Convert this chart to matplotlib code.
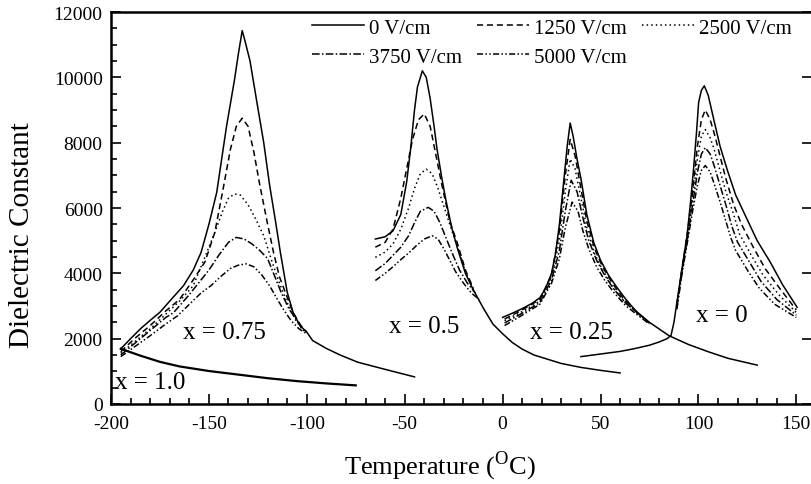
import matplotlib
matplotlib.use("Agg")
import matplotlib.pyplot as plt
from matplotlib.ticker import MultipleLocator

plt.rcParams['font.family'] = ['Liberation Serif', 'DejaVu Serif']
plt.rcParams['mathtext.fontset'] = 'custom'
plt.rcParams['mathtext.rm'] = 'Liberation Serif'
plt.rcParams['axes.unicode_minus'] = False

fields = ['0 V/cm', '1250 V/cm', '2500 V/cm', '3750 V/cm', '5000 V/cm']
styles = ['-', (0, (4, 2.5)), (0, (1, 2)), (0, (5, 1.5, 1, 1.5)), (0, (4, 1.5, 1, 1.5, 1, 1.5))]

# x = 1.0 (0 V/cm only)
t_x100 = [-195, -185, -175, -165, -150, -135, -120, -105, -90, -75]
e_x100 = [1690, 1480, 1290, 1150, 1010, 900, 790, 700, 630, 570]

# x = 0.75
t_x075 = [
    [-195, -190, -185, -180, -175, -170, -163, -158, -154, -150, -146, -141, -137, -135, -133, -131.5,
     -129, -125.5, -122, -119, -116, -113.5, -110, -107, -103.5, -100, -97, -90, -83, -74, -60, -45],
    [-195, -188, -180, -172, -165, -158, -152, -147, -143, -139, -136, -133, -130, -127, -124, -120,
     -117, -114, -111, -107, -103, -100],
    [-195, -188, -180, -172, -165, -158, -152, -147, -143, -140, -137, -134, -130, -126, -122, -118,
     -114, -110, -106, -102],
    [-195, -188, -180, -172, -168, -160, -154, -150, -145, -140, -136, -132, -128, -124, -120, -116,
     -113, -109, -105, -101],
    [-195, -188, -180, -172, -166, -160, -154, -149, -144, -139, -135, -131, -127, -123, -119, -115,
     -112, -108, -104, -100],
]
e_x075 = [
    [1690, 2000, 2300, 2560, 2810, 3150, 3620, 4100, 4640, 5500, 6480, 8500, 9900, 10700, 11430, 11100,
     10500, 9240, 8000, 6700, 5600, 4640, 3420, 2800, 2400, 2200, 1940, 1700, 1500, 1280, 1060, 830],
    [1600, 2000, 2400, 2850, 3200, 3800, 4350, 5250, 6500, 7800, 8500, 8750, 8500, 7700, 6700, 5500,
     4640, 3900, 3420, 2800, 2400, 2200],
    [1550, 1900, 2300, 2750, 3150, 3620, 4500, 5250, 5900, 6300, 6430, 6400, 6100, 5650, 5150, 4400,
     3700, 3100, 2600, 2250],
    [1500, 1850, 2250, 2650, 2800, 3350, 3800, 4100, 4550, 4950, 5100, 5050, 4900, 4700, 4450, 3850,
     3400, 2900, 2550, 2200],
    [1450, 1750, 2090, 2450, 2700, 3050, 3400, 3620, 3900, 4150, 4250, 4290, 4200, 3950, 3620, 3200,
     2900, 2550, 2300, 2150],
]

# x = 0.5
t_x050 = [
    [-65, -60, -56, -52, -49, -47, -45, -43.5, -41, -39, -37, -35, -33.5, -31, -29, -26, -23, -19, -15,
     -10, -5, 0, 5, 10, 16, 23, 30, 40, 50, 60],
    [-65, -60, -56, -52, -49, -46, -43, -40, -37, -34, -31, -27, -23, -19, -15],
    [-65, -60, -56, -52, -48, -45, -42, -39, -36, -33, -30, -27, -23, -19, -15],
    [-65, -60, -56, -52, -48, -45, -42, -38, -35, -32, -29, -26, -22, -18, -14],
    [-65, -60, -56, -52, -48, -44, -40, -36, -33, -30, -27, -24, -20, -16, -12],
]
e_x050 = [
    [5050, 5120, 5300, 5800, 6800, 7800, 9000, 9700, 10200, 10000, 9350, 8500, 7800, 6900, 6250, 5400,
     4750, 4000, 3500, 2950, 2450, 2150, 1880, 1680, 1500, 1370, 1240, 1120, 1030, 950],
    [4800, 4950, 5350, 6300, 7200, 8100, 8700, 8880, 8500, 7600, 6700, 5600, 4900, 4100, 3550],
    [4490, 4650, 4900, 5350, 6000, 6600, 7050, 7190, 7050, 6600, 6050, 5500, 4800, 4050, 3500],
    [4080, 4300, 4550, 4800, 5150, 5550, 5900, 6020, 5900, 5550, 5100, 4650, 4100, 3700, 3400],
    [3780, 4000, 4200, 4420, 4620, 4850, 5050, 5150, 5050, 4750, 4400, 4050, 3700, 3400, 3200],
]

# x = 0.25
t_x025 = [
    [0, 5, 10, 15, 19, 22, 25, 27, 29, 31, 33, 34.5, 36, 38, 40, 43, 46.5, 50, 54, 58, 63, 68, 75, 85,
     95, 105, 115, 130],
    [1, 10, 19, 25, 29, 32, 34.5, 37, 40, 43, 47, 51, 56, 62, 68, 74],
    [1, 10, 19, 25, 29, 32, 34.5, 37, 40, 43, 47, 51, 56, 62, 68, 74],
    [1, 10, 19, 25, 29, 32, 35, 38, 41, 44, 48, 52, 57, 63, 69, 75],
    [1, 10, 19, 25, 29, 32, 35.5, 38.5, 41, 44, 48, 52, 57, 63, 69, 75],
]
e_x025 = [
    [2650, 2780, 2920, 3080, 3250, 3550, 4000, 4600, 5500, 6700, 7900, 8600, 8200, 7500, 6900, 5800,
     4950, 4400, 3950, 3600, 3200, 2850, 2500, 2090, 1820, 1600, 1400, 1190],
    [2600, 2880, 3200, 3950, 5300, 7000, 8100, 7600, 6600, 5600, 4750, 4200, 3700, 3200, 2850, 2520],
    [2550, 2830, 3150, 3900, 5000, 6500, 7500, 7200, 6300, 5400, 4600, 4100, 3600, 3150, 2820, 2500],
    [2480, 2780, 3100, 3800, 4700, 5900, 6850, 6500, 5700, 5000, 4400, 3950, 3500, 3080, 2780, 2470],
    [2400, 2720, 3050, 3700, 4450, 5400, 6180, 5900, 5300, 4750, 4200, 3800, 3400, 3000, 2720, 2450],
]

# x = 0
t_x000 = [
    [40, 50, 60, 67, 75, 80, 84, 86, 87.5, 89, 91.5, 94.2, 96, 97.5, 99, 100.1, 101.5, 103, 105, 107.8,
     111, 114.6, 119, 124.8, 130, 136.7, 143, 150.4],
    [89, 91.5, 94.5, 97, 99.5, 101.5, 103.5, 106, 108, 111, 114, 118, 122, 128, 134, 142, 150],
    [89, 91.5, 94.5, 97, 99.5, 101.5, 103.5, 106, 108, 111, 114, 118, 121, 127, 133, 141, 150],
    [89, 91.5, 94.5, 97, 99.5, 101.5, 103.5, 106, 108, 111, 114, 117, 120, 126, 132, 140, 150],
    [89, 91.5, 94.5, 97, 99.5, 101.5, 103.5, 106, 108, 111, 114, 116.5, 119, 125, 131, 139, 150],
]
e_x000 = [
    [1450, 1530, 1610, 1690, 1800, 1900, 2000, 2100, 2500, 3110, 4100, 5150, 6200, 7190, 8300, 9230,
     9600, 9740, 9450, 8720, 7900, 7190, 6400, 5660, 5000, 4340, 3650, 2960],
    [3050, 4100, 5300, 6500, 7900, 8700, 9000, 8700, 8300, 7600, 6900, 6100, 5500, 4800, 4150, 3500, 2880],
    [3000, 4050, 5200, 6300, 7500, 8200, 8400, 8150, 7800, 7150, 6500, 5800, 5200, 4550, 3950, 3350, 2800],
    [2950, 4000, 5100, 6100, 7100, 7650, 7850, 7650, 7300, 6700, 6100, 5450, 4950, 4350, 3750, 3200, 2720],
    [2900, 3950, 5000, 5900, 6700, 7150, 7300, 7100, 6750, 6200, 5600, 5100, 4700, 4100, 3550, 3050, 2650],
]

comp_labels = ['x = 1.0', 'x = 0.75', 'x = 0.5', 'x = 0.25', 'x = 0']
label_pos = [(-198, 680), (-163, 2200), (-58, 2400), (14, 2200), (99, 2720)]

fig = plt.figure(figsize=(8.11, 4.85), dpi=100)
ax = fig.add_axes([111 / 811, 80 / 485, 701 / 811, 392 / 485])

lw = 1.1
handles = []
for i in range(5):
    h, = ax.plot(t_x075[i], e_x075[i], color='black', lw=lw, linestyle=styles[i], label=fields[i])
    handles.append(h)
    ax.plot(t_x050[i], e_x050[i], color='black', lw=lw, linestyle=styles[i])
    ax.plot(t_x025[i], e_x025[i], color='black', lw=lw, linestyle=styles[i])
    ax.plot(t_x000[i], e_x000[i], color='black', lw=lw, linestyle=styles[i])
ax.plot(t_x100, e_x100, color='black', lw=1.6, linestyle='-')

for lab, (tx, ey) in zip(comp_labels, label_pos):
    ax.text(tx, ey, lab, fontsize=18, ha='left', va='center')

ax.set_xlim(-200, 158)
ax.set_ylim(0, 12000)
ax.xaxis.set_major_locator(MultipleLocator(50))
ax.xaxis.set_minor_locator(MultipleLocator(10))
ax.yaxis.set_major_locator(MultipleLocator(2000))
ax.yaxis.set_minor_locator(MultipleLocator(500))
ax.tick_params(which='both', direction='in', labelsize=14, width=1.2)
ax.tick_params(which='major', length=7)
ax.tick_params(which='minor', length=4)
ax.tick_params(axis='x', pad=8)
ax.tick_params(axis='y', pad=6)
ax.tick_params(axis='y', which='major', right=True)
for s in ax.spines.values():
    s.set_linewidth(1.8)

ax.set_xlabel('Temperature ($^{\\mathrm{O}}$C)', fontsize=19)
ax.xaxis.set_label_coords((440 - 111) / 701, -(466 - 405) / 392)
ax.xaxis.label.set_va('center')
ax.set_ylabel('Dielectric Constant', fontsize=21)
ax.yaxis.set_label_coords((22 - 111) / 701, (405 - 235) / 392)
ax.yaxis.label.set_va('center')

order = [0, 3, 1, 4, 2]
leg = ax.legend([handles[k] for k in order], [fields[k] for k in order], ncol=3,
                loc='upper left', bbox_to_anchor=((312 - 111) / 701, 1 - 6 / 392),
                frameon=False, fontsize=15, handlelength=2.5, handletextpad=0.25,
                columnspacing=0.7, labelspacing=0.45, borderpad=0, borderaxespad=0)

fig.savefig('out.png', dpi=100)
